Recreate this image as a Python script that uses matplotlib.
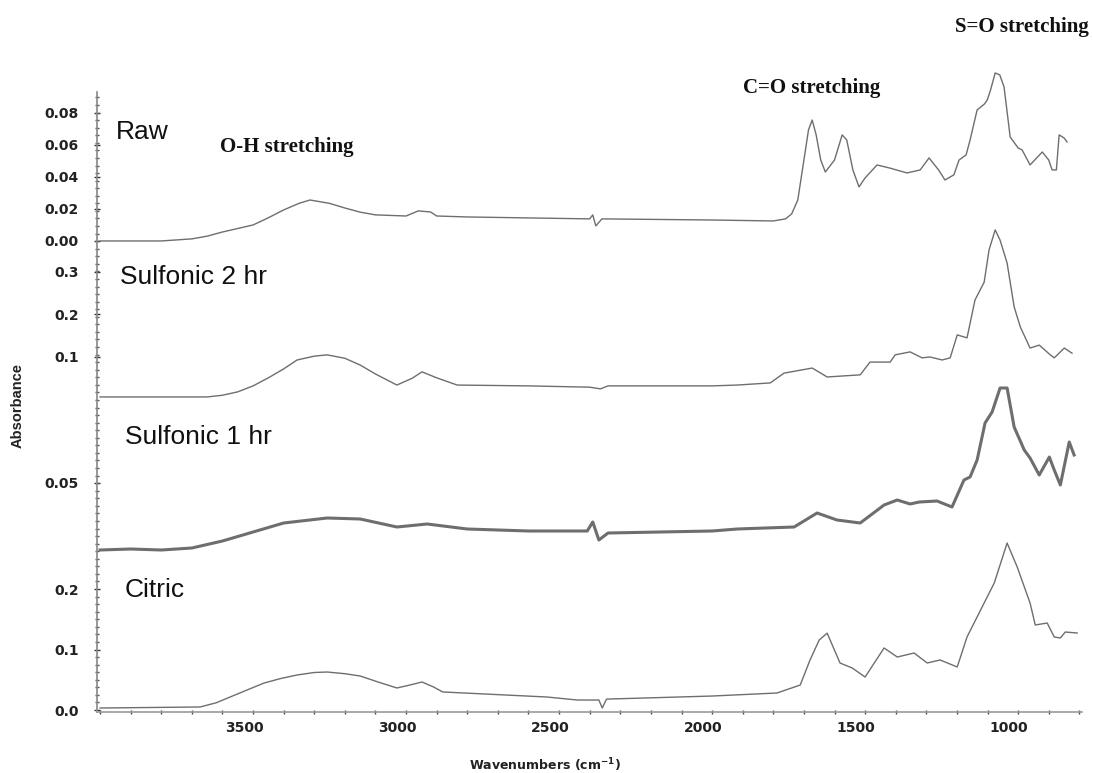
import numpy as np
import matplotlib.pyplot as plt
from matplotlib.ticker import FixedLocator, MultipleLocator, FormatStrFormatter
from matplotlib.transforms import ScaledTranslation

# ---- data ----
wn_raw = [4000, 3800, 3700, 3650, 3600, 3550, 3500, 3450, 3400, 3350, 3314, 3250, 3200, 3150,
          3100, 3000, 2960, 2920, 2900, 2800, 2600, 2400, 2390, 2380, 2360, 2000, 1800, 1760,
          1740, 1720, 1700, 1685, 1673, 1660, 1645, 1630, 1600, 1575, 1560, 1540, 1520, 1500,
          1461, 1420, 1363, 1320, 1291, 1260, 1239, 1210, 1193, 1170, 1157, 1134, 1110, 1101,
          1090, 1075, 1060, 1046, 1026, 1000, 987, 961, 921, 900, 889, 875, 866, 850, 840]
abs_raw = [0.0, 0.0, 0.0013, 0.003, 0.0056, 0.0078, 0.010, 0.0145, 0.0194, 0.0235, 0.0256,
           0.0235, 0.0206, 0.018, 0.0163, 0.0156, 0.0188, 0.0181, 0.0156, 0.015, 0.0144,
           0.0138, 0.0163, 0.0094, 0.0138, 0.0131, 0.0125, 0.0138, 0.0169, 0.0256, 0.0506,
           0.0694, 0.0756, 0.0663, 0.0506, 0.0431, 0.0506, 0.0663, 0.0631, 0.0444, 0.0338,
           0.0394, 0.0475, 0.0456, 0.0425, 0.0444, 0.0519, 0.0444, 0.0381, 0.0413, 0.0506,
           0.0538, 0.0631, 0.0819, 0.0856, 0.0881, 0.0944, 0.105, 0.1038, 0.0963, 0.065,
           0.0581, 0.0569, 0.0475, 0.0556, 0.0506, 0.0444, 0.0444, 0.0663, 0.0644, 0.0619]

wn_s2 = [4000, 3650, 3600, 3550, 3500, 3450, 3400, 3356, 3300, 3258, 3200, 3150, 3100, 3030,
         2980, 2948, 2900, 2833, 2600, 2400, 2365, 2340, 2000, 1918, 1810, 1765, 1673, 1624,
         1516, 1484, 1418, 1402, 1353, 1314, 1288, 1248, 1222, 1199, 1167, 1141, 1111, 1095,
         1075, 1059, 1036, 1013, 993, 961, 931, 895, 882, 849, 824]
abs_s2 = [0.006, 0.006, 0.010, 0.018, 0.032, 0.051, 0.072, 0.093, 0.102, 0.105, 0.097, 0.081,
          0.060, 0.034, 0.050, 0.065, 0.051, 0.034, 0.032, 0.029, 0.025, 0.032, 0.032, 0.034,
          0.039, 0.062, 0.074, 0.053, 0.058, 0.088, 0.088, 0.105, 0.112, 0.098, 0.100, 0.093,
          0.098, 0.152, 0.145, 0.234, 0.276, 0.352, 0.399, 0.375, 0.321, 0.218, 0.171, 0.121,
          0.128, 0.105, 0.098, 0.121, 0.109]

wn_s1 = [4000, 3900, 3800, 3700, 3600, 3500, 3400, 3258, 3150, 3030, 2931, 2800, 2600, 2408,
         2390, 2370, 2340, 2000, 1918, 1732, 1657, 1592, 1516, 1438, 1395, 1353, 1323, 1265,
         1216, 1177, 1157, 1134, 1108, 1085, 1059, 1036, 1013, 980, 961, 931, 898, 882, 862,
         833, 817]
abs_s1 = [0.0232, 0.0236, 0.0232, 0.024, 0.0268, 0.0304, 0.034, 0.036, 0.0356, 0.0324, 0.0336,
          0.0316, 0.0308, 0.0308, 0.0344, 0.0272, 0.030, 0.0308, 0.0316, 0.0324, 0.038, 0.0352,
          0.034, 0.0412, 0.0432, 0.0416, 0.0424, 0.0428, 0.0404, 0.0512, 0.0524, 0.0592, 0.074,
          0.0784, 0.088, 0.088, 0.0724, 0.0632, 0.060, 0.0532, 0.0604, 0.0552, 0.0492, 0.0664,
          0.0612]

wn_cit = [4000, 3673, 3620, 3575, 3520, 3464, 3410, 3356, 3300, 3258, 3200, 3150, 3090, 3030,
          2990, 2948, 2910, 2880, 2540, 2441, 2370, 2359, 2345, 2000, 1788, 1712, 1680, 1650,
          1624, 1582, 1542, 1500, 1438, 1395, 1340, 1297, 1255, 1199, 1167, 1111, 1078, 1036,
          1003, 961, 944, 905, 882, 862, 846, 807]
abs_cit = [0.0033, 0.005, 0.012, 0.0215, 0.033, 0.0446, 0.052, 0.0579, 0.062, 0.0628, 0.060,
           0.0562, 0.046, 0.0364, 0.041, 0.0463, 0.038, 0.0298, 0.0215, 0.0165, 0.0165, 0.0033,
           0.018, 0.0231, 0.0281, 0.0413, 0.0827, 0.1157, 0.127, 0.0777, 0.0694, 0.0545,
           0.1025, 0.0876, 0.0942, 0.0777, 0.0827, 0.0711, 0.1207, 0.1769, 0.2099, 0.276,
           0.2364, 0.1769, 0.1405, 0.1438, 0.1207, 0.119, 0.1289, 0.1273]

names = ["Raw", "Sulfonic 2 hr", "Sulfonic 1 hr", "Citric"]
yticks = [[0.0, 0.02, 0.04, 0.06, 0.08], [0.1, 0.2, 0.3], [0.05], [0.0, 0.1, 0.2]]
yfmt = ["%.2f", "%.1f", "%.2f", "%.1f"]
xticks = [3500, 3000, 2500, 2000, 1500, 1000]

# ---- layout ----
W, H = 1093, 773
fig = plt.figure(figsize=(W / 100, H / 100), dpi=100)
rect = [97 / W, (H - 712) / H, (1083 - 97) / W, (712 - 60) / H]
ylims = [(-0.2944, 0.1131), (-0.7353, 0.7988), (-0.0416, 0.2192), (-0.0033, 1.0744)]
lws = [1.0, 1.0, 2.2, 1.0]
label_pos = [(116, 132), (120, 277), (125, 437), (125, 590)]
data = [(wn_raw, abs_raw), (wn_s2, abs_s2), (wn_s1, abs_s1), (wn_cit, abs_cit)]

line_col = "#6e6e6e"
for i, (wn, ab) in enumerate(data):
    ax = fig.add_axes(rect, label=names[i])
    ax.patch.set_alpha(0)
    ax.plot(wn, ab, color=line_col, lw=lws[i])
    ax.set_xlim(4010, 788)
    ax.set_ylim(*ylims[i])
    ax.yaxis.set_major_locator(FixedLocator(yticks[i]))
    ax.yaxis.set_major_formatter(FormatStrFormatter(yfmt[i]))
    ax.tick_params(axis="y", direction="inout", length=4, width=1, pad=11,
                   labelsize=10, color="#333333", labelcolor="#222222")
    for t in ax.get_yticklabels():
        t.set_fontweight("bold")
    for s in ["top", "right"]:
        ax.spines[s].set_visible(False)
    if i < 3:
        ax.spines["left"].set_visible(False)
        ax.spines["bottom"].set_visible(False)
        ax.set_xticks([])
    else:
        ax.spines["left"].set_bounds(ylims[i][0], 1.0215)
        ax.spines["left"].set_color("#888888")
        ax.spines["left"].set_linewidth(1.2)
        ax.yaxis.set_minor_locator(FixedLocator(np.arange(0, 1.02, 0.0125)))
        ax.tick_params(axis="y", which="minor", direction="inout", length=3,
                       width=1, color="#555555")
        ax.spines["bottom"].set_color("#9a9a9a")
        ax.spines["bottom"].set_linestyle((0, (1, 1)))
        ax.spines["bottom"].set_linewidth(1.2)
        ax.xaxis.set_major_locator(FixedLocator(xticks))
        ax.xaxis.set_minor_locator(MultipleLocator(100))
        ax.tick_params(axis="x", which="both", direction="inout", length=3, width=1,
                       color="#444444", labelsize=10, labelcolor="#222222", pad=5)
        for t in ax.get_xticklabels():
            t.set_fontweight("bold")
            t.set_transform(t.get_transform() + ScaledTranslation(-0.09, 0, fig.dpi_scale_trans))
    fig.text(label_pos[i][0] / W, 1 - label_pos[i][1] / H, names[i],
             fontsize=19, family="Liberation Sans", va="center", ha="left", color="#111111")

# peak annotations
notes = [("O-H stretching", 220, 147), ("C=O stretching", 743, 88), ("S=O stretching", 955, 27)]
for txt, x, y in notes:
    fig.text(x / W, 1 - y / H, txt, fontsize=15, family="Liberation Serif",
             fontweight="bold", va="center", ha="left", color="#111111")

fig.text(18 / W, 1 - 405 / H, "Absorbance", rotation=90, fontsize=10.5,
         family="Liberation Sans", fontweight="bold", va="center", ha="center", color="#222222")
fig.text(545 / W, 1 - 765 / H, r"Wavenumbers (cm$^{\mathbf{-1}}$)", fontsize=9,
         family="DejaVu Sans", fontweight="bold", va="center", ha="center", color="#222222")

fig.savefig("out.png", dpi=100)
